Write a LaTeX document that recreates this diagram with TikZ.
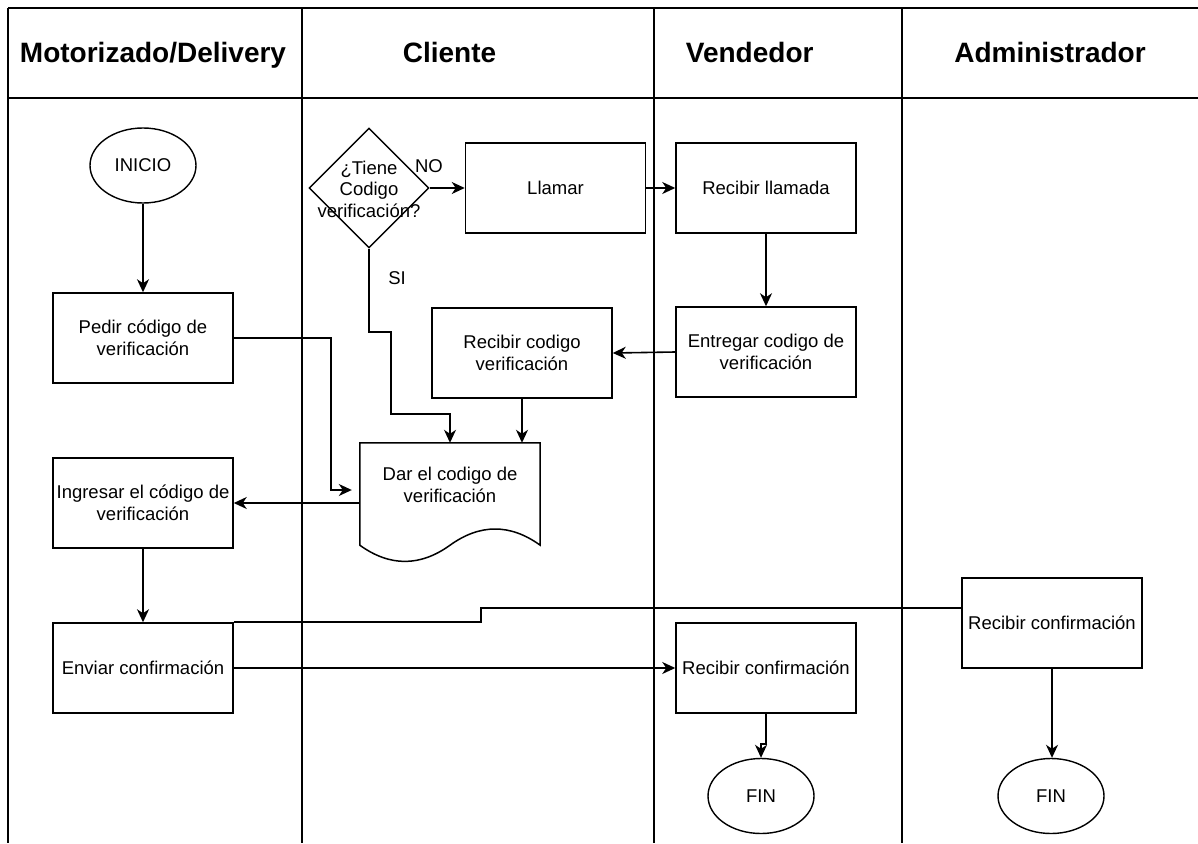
\documentclass[tikz,border=0pt]{standalone}
\usepackage{fontspec}
\setmainfont{Liberation Sans}
\usetikzlibrary{shapes.geometric,arrows.meta,calc}
\newcommand\bdyfnt{\fontsize{18.5}{21.5}\selectfont}
\newcommand\hdrfnt{\fontsize{28}{32}\selectfont\bfseries}
\begin{document}
\begin{tikzpicture}[x=1pt,y=-1pt,
  lane/.style={line width=2.2pt},
  box/.style={draw, line width=1.5pt, rectangle, minimum width=180pt, minimum height=90pt, inner sep=0pt, align=center, font=\bdyfnt},
  oval/.style={draw, line width=1.4pt, ellipse, minimum width=106pt, minimum height=75pt, inner sep=0pt, font=\bdyfnt},
  dia/.style={draw, line width=1.4pt, diamond, minimum width=120pt, minimum height=120pt, inner sep=0pt},
  txt/.style={inner sep=0pt, align=center, font=\bdyfnt},
  hdr/.style={inner sep=0pt, font=\hdrfnt, anchor=base},
  arr/.style={line width=1.6pt, -{Stealth[length=13pt,width=12pt,inset=4pt]}},
  con/.style={line width=1.6pt}]
\useasboundingbox (0,0) rectangle (1198,843);
% swimlanes
\draw[lane] (8,8) -- (1198,8);
\draw[lane] (8,98) -- (1198,98);
\foreach \lx in {8,302,654,902} \draw[lane] (\lx,8) -- (\lx,843);
% headers
\node[hdr] (h1) at (153,63) {Motorizado/Delivery};
\node[hdr] (h2) at (449.5,63) {Cliente};
\node[hdr] (h3) at (749.7,63) {Vendedor};
\node[hdr] (h4) at (1050,63) {Administrador};
% Motorizado
\node[oval] (ini) at (143,165.5) {INICIO};
\node[box] (pedir) at (143,338) {Pedir código de\\verificación};
\node[box] (ing) at (143,503) {Ingresar el código de\\verificación};
\node[box] (envia) at (143,668) {Enviar confirmación};
% Cliente
\node[dia] (dia) at (369,188) {};
\node[txt] (diatext) at (369,189) {¿Tiene\\Codigo\\verificación?};
\node[box] (llamar) at (555.5,188) {Llamar};
\node[box] (rcod) at (522,353) {Recibir codigo\\verificación};
\node[inner sep=0pt, minimum width=180pt, minimum height=102pt] (dar) at (450,494) {};
\draw[line width=1.5pt] (dar.south west) -- (dar.north west) -- (dar.north east) -- (dar.south east)
  .. controls ($(dar.south east)+(-30,-21.6)$) and ($(dar.south)+(30,-21.6)$) .. (dar.south)
  .. controls ($(dar.south)+(-30,21.6)$) and ($(dar.south west)+(30,21.6)$) .. (dar.south west) -- cycle;
\node[txt] (dartext) at (450,485) {Dar el codigo de\\verificación};
\node[txt] (no) at (429,166) {NO};
\node[txt] (si) at (397,278) {SI};
% Vendedor
\node[box] (rllam) at (766,188) {Recibir llamada};
\node[box] (entr) at (766,352) {Entregar codigo de\\verificación};
\node[box] (rconf) at (766,668) {Recibir confirmación};
\node[oval] (fin1) at (761,796) {FIN};
% Administrador
\node[box] (radm) at (1052,623) {Recibir confirmación};
\node[oval] (fin2) at (1051,796) {FIN};
% connectors
\draw[arr] (ini.south) -- (pedir.north);
\draw[arr] (ing.south) -- (envia.north);
\draw[arr] (dia.east) -- (llamar.west);
\draw[arr] (llamar.east) -- (rllam.west);
\draw[arr] (rllam.south) -- (entr.north);
\draw[arr] (entr.west) -- (rcod.east);
\draw[arr] (rcod.south) -- (rcod.south |- dar.north);
\draw[arr] (dia.south) -- ++(0,83) -| ++(22,82) -| (dar.north);
\draw[arr] (pedir.east) -- ++(97,0) |- ($(dar.west)+(-8,-4)$);
\draw[arr] (ing.east -| dar.west) -- (ing.east);
\draw[arr] (envia.east) -- (rconf.west);
\draw[con] (envia.north east) -- ++(247,0) |- ($(radm.west)+(0,-15)$);
\draw[arr] (rconf.south) -- ++(0,30) -| (fin1.north);
\draw[arr] (radm.south) -- (radm.south |- fin2.north);
\end{tikzpicture}
\end{document}
